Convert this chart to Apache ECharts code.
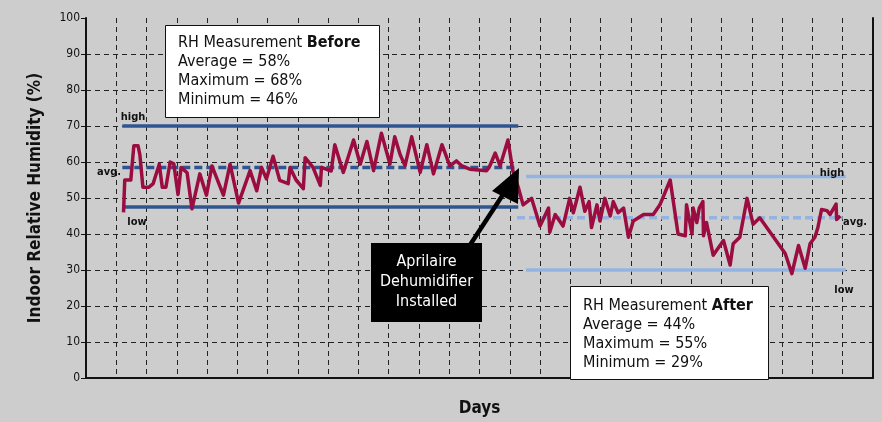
<!DOCTYPE html>
<html>
<head>
<meta charset="utf-8">
<script src="https://cdn.jsdelivr.net/npm/echarts@6/dist/echarts.min.js"></script>
<style>
  html, body { margin: 0; padding: 0; background: #cdcdcd; }
  #chart { width: 882px; height: 422px; }
</style>
</head>
<body>
<div id="chart"></div>
<script>
// ---- data ----
const yTicks = [0, 10, 20, 30, 40, 50, 60, 70, 80, 90, 100];
const beforeDays = [6.2, 6.4, 7.4, 7.9, 8.6, 8.9, 9.4, 10.4, 11.1, 12.1, 12.6, 13.2, 13.9, 14.5, 15.2, 15.7, 16.7, 17.5, 18.8, 19.9, 20.8, 22.7, 23.8, 25.2, 27.1, 28.2, 29.0, 29.8, 30.9, 32.0, 33.4, 33.7, 34.7, 35.9, 36.2, 37.5, 38.7, 38.9, 40.5, 41.1, 42.5, 44.2, 45.3, 46.4, 47.5, 48.8, 50.2, 51.0, 51.9, 52.7, 53.8, 55.2, 56.3, 57.4, 58.8, 60.1, 61.2, 62.1, 63.4, 66.2, 66.7, 67.6, 68.4, 69.7, 70.5];
const beforeRH = [46, 55, 55, 64.5, 64.5, 62, 53, 53, 54, 59.4, 53, 53, 60, 59.5, 51, 58.5, 57, 47, 56.7, 50.8, 58.9, 50.8, 59.4, 48.6, 57.6, 52, 58.5, 55.3, 61.6, 54.9, 54, 58.5, 55, 52.6, 61.2, 58.5, 53.5, 58.5, 57.5, 64.8, 57.1, 66.1, 59.4, 65.7, 57.6, 68, 59.4, 67, 62, 59, 67, 57.1, 64.8, 56.7, 64.8, 58.9, 60.3, 58.9, 58, 57.6, 58.9, 62.5, 58.9, 66.1, 57.6];
const afterDays = [71.4, 72.2, 73.6, 75.0, 76.4, 76.6, 77.5, 78.8, 79.9, 80.5, 81.6, 82.4, 83.1, 83.5, 84.4, 84.9, 85.7, 86.6, 87.1, 87.9, 88.8, 89.6, 90.4, 92.1, 93.7, 94.8, 96.5, 97.8, 99.0, 99.2, 100.1, 100.3, 100.9, 101.3, 101.9, 102.0, 102.5, 103.6, 105.3, 106.4, 106.9, 108.0, 109.2, 110.2, 111.3, 115.5, 116.6, 117.7, 118.8, 119.6, 120.4, 120.9, 121.5, 122.4, 122.9, 123.9, 124.0, 124.6];
const afterRH = [53, 48.1, 49.9, 42.2, 47.2, 40.5, 45.4, 42.2, 49.9, 45.9, 53, 46.3, 49, 41.8, 48.1, 43.6, 49.9, 45, 49, 45.9, 47.2, 39.1, 43.6, 45.4, 45.4, 48.1, 55, 40, 39.5, 48.1, 40, 47.2, 43.2, 47.2, 49, 39.5, 43.2, 34.1, 38.2, 31.4, 37.3, 39.1, 49.9, 42.7, 44.5, 34.6, 29, 36.8, 30.5, 37.3, 39.1, 41.8, 46.8, 46.5, 45.4, 48.3, 44, 45];
// reference levels: high, avg, low
const beforeLevels = [70, 58.5, 47.5];
const afterLevels = [56, 44.5, 30];
const beforeSpan = [6.0, 71.4];
const afterSpan = [72.7, 125.5];
const afterAvgSpan = [71.2, 125.0];

const FONT = "'Liberation Sans Narrow', 'Arial Narrow', 'DejaVu Sans Condensed', 'Roboto Condensed', sans-serif";
const DARK = '#2f5590';
const LIGHT = '#93b3e2';
const RED = '#9b0d40';

const chart = echarts.init(document.getElementById('chart'));

function seg(span, v) { return [[span[0], v], [span[1], v]]; }
function refSeries(data, color, dashed) {
  return {
    type: 'line', data: data, symbol: 'none', silent: true, z: 2,
    lineStyle: { color: color, width: 3.5, type: dashed ? [8, 4] : 'solid', cap: 'butt' }
  };
}

const rhData = beforeDays.map((d, i) => [d, beforeRH[i]])
  .concat(afterDays.map((d, i) => [d, afterRH[i]]));

const option = {
  backgroundColor: '#cdcdcd',
  animation: false,
  grid: { left: 86, right: 9, top: 18, bottom: 34 },
  xAxis: {
    type: 'value', min: 0, max: 130, interval: 5,
    name: 'Days', nameLocation: 'middle', nameGap: 22,
    nameTextStyle: { fontFamily: FONT, fontWeight: 'bold', fontSize: 17, color: '#111' },
    axisLine: { show: true, onZero: false, lineStyle: { color: '#111', width: 2 } },
    axisTick: { show: false },
    axisLabel: { show: false },
    splitLine: { show: true, showMinLine: false, showMaxLine: false, lineStyle: { color: '#222', width: 1, type: [5, 4] } }
  },
  yAxis: [{
    type: 'value', min: 0, max: 100, interval: 10,
    name: 'Indoor Relative Humidity (%)', nameLocation: 'middle', nameGap: 42,
    nameTextStyle: { fontFamily: FONT, fontWeight: 'bold', fontSize: 17, color: '#111' },
    axisLine: { show: true, lineStyle: { color: '#111', width: 2 } },
    axisTick: { show: true, length: 5, lineStyle: { color: '#111', width: 1 } },
    axisLabel: { fontFamily: FONT, fontSize: 12, color: '#111', margin: 6,
      formatter: v => yTicks.includes(v) ? String(v) : '' },
    splitLine: { show: true, showMinLine: false, showMaxLine: false, lineStyle: { color: '#222', width: 1, type: [5, 4] } }
  }, {
    type: 'value', min: 0, max: 100, position: 'right',
    axisLine: { show: true, lineStyle: { color: '#111', width: 2 } },
    axisTick: { show: false }, axisLabel: { show: false }, splitLine: { show: false }
  }],
  series: [
    refSeries(seg(beforeSpan, beforeLevels[0]), DARK, false),
    refSeries(seg(beforeSpan, beforeLevels[1]), DARK, true),
    refSeries(seg(beforeSpan, beforeLevels[2]), DARK, false),
    refSeries(seg(afterSpan, afterLevels[0]), LIGHT, false),
    refSeries(seg(afterAvgSpan, afterLevels[1]), LIGHT, true),
    refSeries(seg(afterSpan, afterLevels[2]), LIGHT, false),
    {
      type: 'line', data: rhData, symbol: 'none', z: 3,
      lineStyle: { color: RED, width: 3.5, join: 'round' }
    }
  ],
  graphic: [
    // Before box
    { type: 'rect', shape: { x: 165.5, y: 25.5, width: 214, height: 92 },
      style: { fill: '#fff', stroke: '#111', lineWidth: 1 }, z: 10 },
    { type: 'text', x: 178, y: 33, z: 11,
      style: {
        text: '{n|RH Measurement }{b|Before}\n{n|Average = 58%}\n{n|Maximum = 68%}\n{n|Minimum = 46%}',
        rich: {
          n: { fontFamily: FONT, fontSize: 16, lineHeight: 19, fill: '#111' },
          b: { fontFamily: FONT, fontSize: 16, lineHeight: 19, fontWeight: 'bold', fill: '#111' }
        }
      } },
    // After box
    { type: 'rect', shape: { x: 570.5, y: 286.5, width: 198, height: 93 },
      style: { fill: '#fff', stroke: '#111', lineWidth: 1 }, z: 10 },
    { type: 'text', x: 583, y: 296, z: 11,
      style: {
        text: '{n|RH Measurement }{b|After}\n{n|Average = 44%}\n{n|Maximum = 55%}\n{n|Minimum = 29%}',
        rich: {
          n: { fontFamily: FONT, fontSize: 16, lineHeight: 19, fill: '#111' },
          b: { fontFamily: FONT, fontSize: 16, lineHeight: 19, fontWeight: 'bold', fill: '#111' }
        }
      } },
    // Installed box
    { type: 'rect', shape: { x: 371, y: 243, width: 111, height: 79 },
      style: { fill: '#000' }, z: 10 },
    { type: 'text', x: 426.5, y: 282, z: 11,
      style: { text: 'Aprilaire\nDehumidifier\nInstalled', fontFamily: FONT, fontSize: 16,
        lineHeight: 20, fill: '#fff', align: 'center', verticalAlign: 'middle' } },
    // Arrow
    { type: 'line', shape: { x1: 470, y1: 245, x2: 506, y2: 190 },
      style: { stroke: '#000', lineWidth: 4.5 }, z: 12 },
    { type: 'polygon', shape: { points: [[519, 168], [492, 191], [518, 204]] },
      style: { fill: '#000' }, z: 12 },
    // level labels
    { type: 'text', x: 133, y: 117, z: 11, style: { text: 'high', fontFamily: FONT, fontSize: 11, fontWeight: 'bold', fill: '#111', align: 'center', verticalAlign: 'middle' } },
    { type: 'text', x: 109, y: 172, z: 11, style: { text: 'avg.', fontFamily: FONT, fontSize: 11, fontWeight: 'bold', fill: '#111', align: 'center', verticalAlign: 'middle' } },
    { type: 'text', x: 137, y: 222, z: 11, style: { text: 'low', fontFamily: FONT, fontSize: 11, fontWeight: 'bold', fill: '#111', align: 'center', verticalAlign: 'middle' } },
    { type: 'text', x: 832, y: 173, z: 11, style: { text: 'high', fontFamily: FONT, fontSize: 11, fontWeight: 'bold', fill: '#111', align: 'center', verticalAlign: 'middle' } },
    { type: 'text', x: 855, y: 222, z: 11, style: { text: 'avg.', fontFamily: FONT, fontSize: 11, fontWeight: 'bold', fill: '#111', align: 'center', verticalAlign: 'middle' } },
    { type: 'text', x: 844, y: 290, z: 11, style: { text: 'low', fontFamily: FONT, fontSize: 11, fontWeight: 'bold', fill: '#111', align: 'center', verticalAlign: 'middle' } }
  ]
};
chart.setOption(option);
</script>
</body>
</html>
